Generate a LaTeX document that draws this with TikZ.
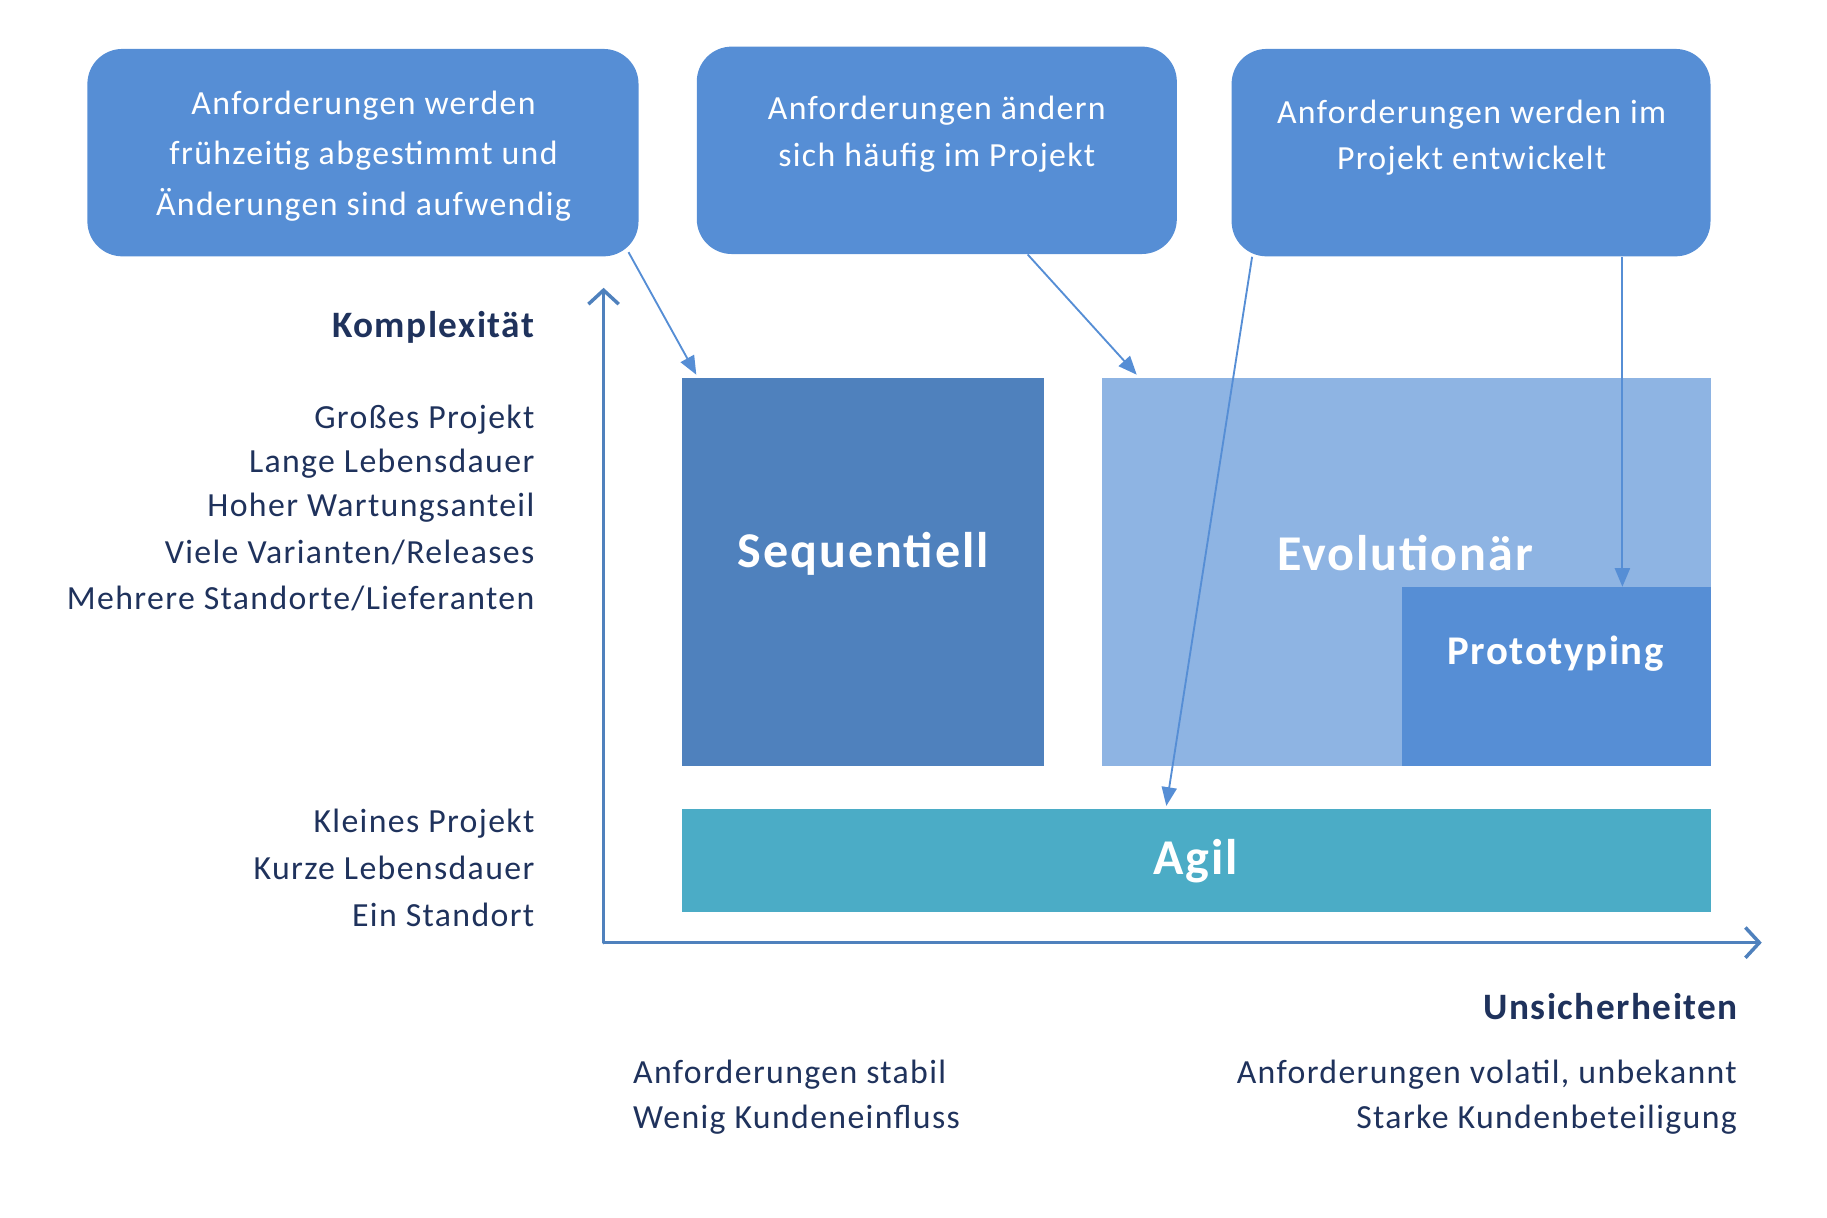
\documentclass[tikz,border=0pt]{standalone}
\usepackage{fontspec}
\setmainfont{Carlito}[LetterSpace=4]
\usetikzlibrary{arrows.meta,calc}
\definecolor{boxblue}{RGB}{86,142,213}
\definecolor{seqblue}{RGB}{79,129,189}
\definecolor{evoblue}{RGB}{142,180,227}
\definecolor{agilteal}{RGB}{75,172,198}
\definecolor{axisblue}{RGB}{79,129,189}
\definecolor{txtnavy}{RGB}{31,50,92}
\tikzset{
  reqbox/.style={fill=boxblue, draw=none, rounded corners=15pt, inner sep=0pt},
  field/.style={draw=none, inner sep=0pt},
  boxtext/.style={text=white, align=center, font=\fontsize{14.5}{21.5}\selectfont, inner sep=0pt},
  bigtext/.style={text=white, font=\bfseries\fontsize{21.5}{24}\selectfont, inner sep=0pt},
  lbl/.style={text=txtnavy, font=\fontsize{14.5}{19.5}\selectfont, inner sep=0pt},
  lblbold/.style={text=txtnavy, font=\bfseries\fontsize{16}{18}\selectfont, inner sep=0pt},
  conn/.style={draw=boxblue, line width=0.8pt, -{Triangle[length=8pt,width=6.5pt]}},
  axis/.style={draw=axisblue, line width=1.5pt, -{Straight Barb[length=6pt,width=13pt,line width=1.5pt]}}
}
\begin{document}
\begin{tikzpicture}[x=0.5pt,y=-0.5pt]
\useasboundingbox (0,0) rectangle (1568,1045);
% requirement boxes
\node[reqbox, minimum width=236.5pt, minimum height=89pt] (b1) at (311.5,131) {};
\node[reqbox, minimum width=206pt, minimum height=89pt] (b2) at (804,129) {};
\node[reqbox, minimum width=205.5pt, minimum height=89pt] (b3) at (1262.5,131) {};
\node[boxtext] (t1) at (312,134) {Anforderungen werden\\frühzeitig abgestimmt und\\Änderungen sind aufwendig};
\node[boxtext, font=\fontsize{14.5}{20}\selectfont] (t2) at (804,115) {Anforderungen ändern\\sich häufig im Projekt};
\node[boxtext, font=\fontsize{14.5}{20}\selectfont] (t3) at (1263,118) {Anforderungen werden im\\Projekt entwickelt};
% fields
\node[field, fill=seqblue, minimum width=155.5pt, minimum height=166.5pt] (seq) at (740.5,490.5) {};
\node[field, fill=evoblue, minimum width=261pt, minimum height=166.5pt] (evo) at (1207,490.5) {};
\node[field, fill=boxblue, minimum width=132.5pt, minimum height=76.5pt] (proto) at (1335.5,580.5) {};
\node[field, fill=agilteal, minimum width=441.5pt, minimum height=44.5pt] (agil) at (1026.5,738.5) {};
\node[bigtext] (tseq) at (741,475) {Sequentiell};
\node[bigtext] (tevo) at (1206,475) {Evolutionär};
\node[text=white, font=\bfseries\fontsize{17.5}{20}\selectfont, inner sep=0pt] (tproto) at (1335,561) {Prototyping};
\node[bigtext] (tagil) at (1026,739) {Agil};
% axes
\coordinate (O) at (518,809);
\coordinate (ytip) at (518,247);
\coordinate (xtip) at (1512,809);
\draw[axis, line cap=round] (O) -- (ytip);
\draw[axis] (O) -- (xtip);
% connectors
\draw[conn] ([xshift=-4.5pt,yshift=2pt]b1.south east) -- ([xshift=6.5pt,yshift=1pt]seq.north west);
\draw[conn] ([xshift=39pt]b2.south) -- ([xshift=15pt,yshift=1pt]evo.north west);
\draw[conn] ([xshift=9pt]b3.south west) -- ([xshift=-12.75pt,yshift=1pt]agil.north);
\draw[conn] ([xshift=-38pt]b3.south east) -- ([xshift=-38pt]proto.north east);
% left labels
\node[lblbold, anchor=east] (kompl) at (459,281) {Komplexität};
\node[lbl, anchor=east] (l1) at (459,360) {Großes Projekt};
\node[lbl, anchor=east] (l2) at (459,398) {Lange Lebensdauer};
\node[lbl, anchor=east] (l3) at (459,436) {Hoher Wartungsanteil};
\node[lbl, anchor=east] (l4) at (459,474) {Viele Varianten/Releases};
\node[lbl, anchor=east] (l5) at (459,514) {Mehrere Standorte/Lieferanten};
\node[lbl, anchor=east] (l6) at (459,707) {Kleines Projekt};
\node[lbl, anchor=east] (l7) at (459,745) {Kurze Lebensdauer};
\node[lbl, anchor=east] (l8) at (459,785) {Ein Standort};
% bottom labels
\node[lblbold, anchor=east] (unsich) at (1492,864) {Unsicherheiten};
\node[lbl, anchor=west] (r1) at (543,922) {Anforderungen stabil};
\node[lbl, anchor=west] (r2) at (543,961) {Wenig Kundeneinfluss};
\node[lbl, anchor=east] (r3) at (1491,922) {Anforderungen volatil, unbekannt};
\node[lbl, anchor=east] (r4) at (1491,961) {Starke Kundenbeteiligung};
\end{tikzpicture}
\end{document}
